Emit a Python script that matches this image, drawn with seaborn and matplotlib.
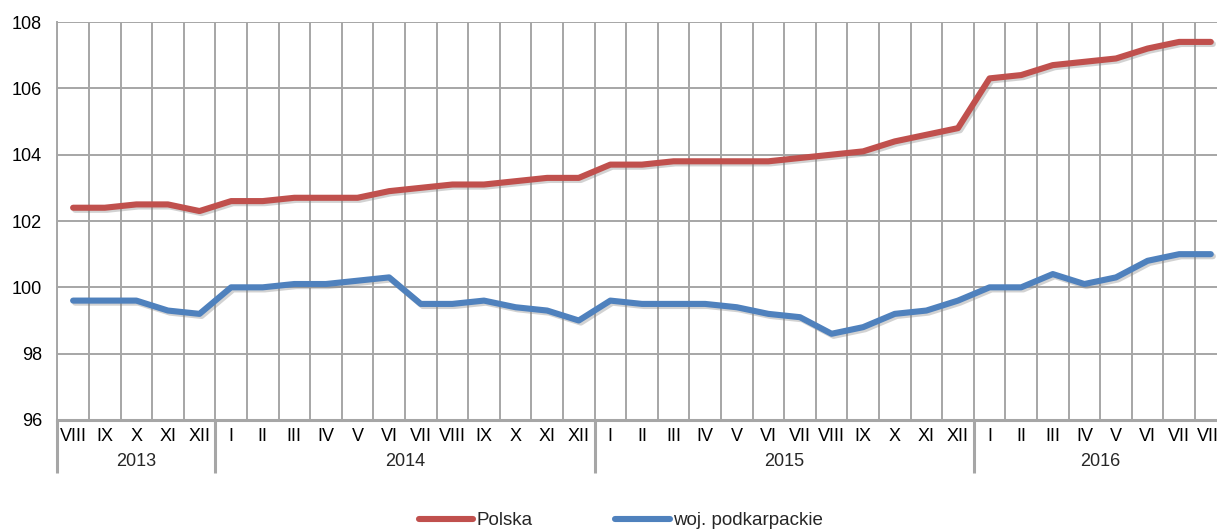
import matplotlib
matplotlib.use("Agg")
import matplotlib.pyplot as plt
import matplotlib.patheffects as pe
import matplotlib.transforms as mtransforms
import numpy as np
import pandas as pd
import seaborn as sns

# months VIII 2013 - VIII 2016
years = ["2013", "2014", "2015", "2016"]
months_per_year = [5, 12, 12, 8]
month_labels = (["VIII", "IX", "X", "XI", "XII"]
                + ["I", "II", "III", "IV", "V", "VI", "VII", "VIII", "IX", "X", "XI", "XII"] * 2
                + ["I", "II", "III", "IV", "V", "VI", "VII", "VIII"])

polska = [102.4, 102.4, 102.5, 102.5, 102.3,
          102.6, 102.6, 102.7, 102.7, 102.7, 102.9, 103.0, 103.1, 103.1, 103.2, 103.3, 103.3,
          103.7, 103.7, 103.8, 103.8, 103.8, 103.8, 103.9, 104.0, 104.1, 104.4, 104.6, 104.8,
          106.3, 106.4, 106.7, 106.8, 106.9, 107.2, 107.4, 107.4]
podkarpackie = [99.6, 99.6, 99.6, 99.3, 99.2,
                100.0, 100.0, 100.1, 100.1, 100.2, 100.3, 99.5, 99.5, 99.6, 99.4, 99.3, 99.0,
                99.6, 99.5, 99.5, 99.5, 99.4, 99.2, 99.1, 98.6, 98.8, 99.2, 99.3, 99.6,
                100.0, 100.0, 100.4, 100.1, 100.3, 100.8, 101.0, 101.0]

series_names = ["Polska", "woj. podkarpackie"]
colors = ["#C0504D", "#4F81BD"]

n = len(month_labels)
pos = np.arange(n) + 0.5
df = pd.concat([
    pd.DataFrame({"x": pos, "value": polska, "seria": series_names[0]}),
    pd.DataFrame({"x": pos, "value": podkarpackie, "seria": series_names[1]}),
])

sns.set_style("white")
plt.rcParams["font.family"] = ["Liberation Sans", "DejaVu Sans"]

W, H = 1217, 530
fig = plt.figure(figsize=(W / 100, H / 100), dpi=100)
left, right, top, bottom = 57.3, 1226.6, 22, 420
ax = fig.add_axes([left / W, 1 - bottom / H, (right - left) / W, (bottom - top) / H])

sns.lineplot(data=df, x="x", y="value", hue="seria", palette=colors,
             linewidth=4.4, ax=ax, legend=False, sort=False)
for line in ax.lines:
    line.set_solid_capstyle("round")
    line.set_solid_joinstyle("round")
    line.set_path_effects([pe.SimpleLineShadow(offset=(1.5, -1.5), shadow_color="gray", alpha=0.35),
                           pe.Normal()])

grid_c = "#A6A6A6"
ax.set_xlim(0, n)
ax.set_ylim(96, 108)
ax.set_yticks(np.arange(96, 109, 2))
ax.set_xticks(np.arange(0, n + 1))
ax.set_xticklabels([])
ax.set_xticks(pos, minor=True)
ax.set_xticklabels(month_labels, minor=True)
ax.tick_params(axis="both", which="both", length=0, labelsize=13, colors="black")
ax.tick_params(axis="y", pad=11)
ax.tick_params(axis="x", which="minor", pad=6)
ax.grid(True, which="major", color=grid_c, linewidth=1.4)
ax.set_axisbelow(True)
for s in ["top", "right"]:
    ax.spines[s].set_visible(False)
ax.spines["left"].set_color(grid_c)
ax.spines["left"].set_linewidth(1.4)
ax.spines["bottom"].set_color(grid_c)
ax.spines["bottom"].set_linewidth(2.2)
ax.set_xlabel("")
ax.set_ylabel("")

# year groups below the month labels
trans = mtransforms.blended_transform_factory(ax.transData, ax.transAxes)
drop = -53 / (bottom - top)
start = 0
bounds = [0]
for y, m in zip(years, months_per_year):
    ax.text(start + m / 2, -41 / (bottom - top), y, transform=trans,
            ha="center", va="center", fontsize=13)
    start += m
    bounds.append(start)
for b in bounds[:-1]:
    ax.plot([b, b], [0, drop], transform=trans, color=grid_c, linewidth=2.2,
            clip_on=False, solid_capstyle="butt")

handles = [plt.Line2D([], [], color=c, linewidth=4.4, solid_capstyle="round") for c in colors]
fig.legend(handles, series_names, loc="center", ncol=2, frameon=False,
           bbox_to_anchor=(621 / W, 1 - 520.5 / H), fontsize=13.5,
           handlelength=2.9, handletextpad=0.2, columnspacing=4.4)

fig.savefig("out.png", dpi=100)
